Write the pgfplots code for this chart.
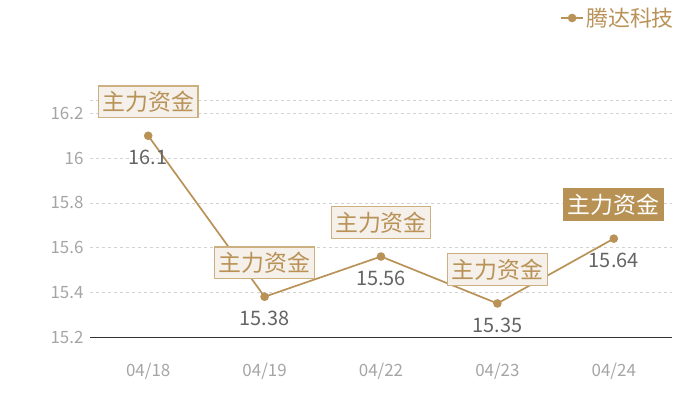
\documentclass[border=0pt]{standalone}
\usepackage{pgfplots}
\pgfplotsset{compat=1.18}
\usepackage{fontspec}
\setmainfont{Noto Sans CJK SC}

\definecolor{gold}{RGB}{185,146,88}
\definecolor{boxb}{RGB}{205,176,128}
\definecolor{boxf}{RGB}{245,240,233}
\definecolor{darkbox}{RGB}{184,145,84}
\definecolor{valc}{RGB}{100,100,100}
\definecolor{tickc}{RGB}{165,165,165}
\definecolor{gridc}{RGB}{210,210,210}

\begin{document}
\begin{tikzpicture}
\begin{axis}[
    name=ax,
    scale only axis,
    width=582bp, height=237bp,
    xmin=-0.5, xmax=4.5,
    ymin=15.2, ymax=16.26,
    clip=false,
    axis x line*=bottom,
    axis y line*=left,
    y axis line style={draw=none},
    x axis line style={draw=black!80, line width=0.8bp, -},
    xtick={0,1,2,3,4},
    xticklabels={04/18,04/19,04/22,04/23,04/24},
    ytick={15.2,15.4,15.6,15.8,16,16.2},
    extra y ticks={16.26},
    extra y tick labels={},
    extra y tick style={grid=major},
    ymajorgrids,
    grid style={dashed, color=gridc, line width=0.6bp},
    major tick length=0pt,
    /pgf/number format/assume math mode=true,
    xticklabel style={font=\fontsize{17}{17}\selectfont, text=tickc, yshift=-23bp},
    yticklabel style={font=\fontsize{17}{17}\selectfont, text=tickc, xshift=-3bp},
    legend style={at={(1.007,1.346)}, anchor=east, draw=none, fill=none,
        font=\fontsize{22}{22}\selectfont, text=gold, inner sep=0pt},
    legend image code/.code={
        \draw[gold, line width=1.5bp] (0,0) -- (0.8cm,0);
        \fill[gold] (0.4cm,0) circle (3.4bp);
    },
]
\addplot[color=gold, line width=1.7bp, mark=*, mark size=3.4bp,
    mark options={fill=gold, draw=gold},
    point meta=y,
    nodes near coords={\pgfmathprintnumber{\pgfplotspointmeta}},
    nodes near coords style={anchor=center, yshift=-22bp, text=valc,
        font=\fontsize{20}{20}\selectfont}]
    coordinates {(0,16.1) (1,15.38) (2,15.56) (3,15.35) (4,15.64)};
\addlegendentry{腾达科技}

\addplot[draw=none, mark=none, forget plot, point meta=y,
    nodes near coords={主力资金},
    nodes near coords style={anchor=center, yshift=34bp, draw=boxb, fill=boxf,
        line width=1.2bp, text=gold, inner xsep=4bp, inner ysep=5bp,
        font=\fontsize{23}{23}\selectfont}]
    coordinates {(0,16.1) (1,15.38) (2,15.56) (3,15.35)};

\addplot[draw=none, mark=none, forget plot, point meta=y,
    nodes near coords={主力资金},
    nodes near coords style={anchor=center, yshift=34bp, draw=darkbox, fill=darkbox,
        line width=1.2bp, text=white, inner xsep=4bp, inner ysep=5bp,
        font=\fontsize{23}{23}\selectfont}]
    coordinates {(4,15.64)};
\end{axis}
\path (ax.south west) ++(-90bp,-63bp) rectangle ++(700bp,400bp);
\end{tikzpicture}
\end{document}
